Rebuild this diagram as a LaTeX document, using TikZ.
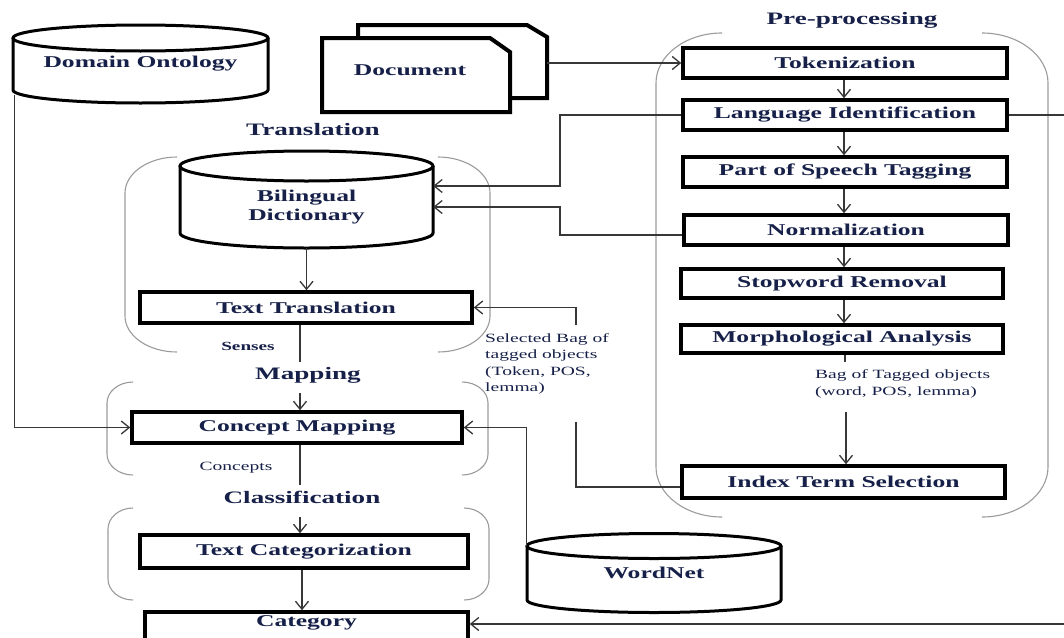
\documentclass[tikz,border=0pt]{standalone}
\usepackage{fontspec}
\setmainfont{Liberation Serif}[FakeStretch=1.55]
\usetikzlibrary{arrows.meta,calc}
\definecolor{navy}{RGB}{22,32,72}
\definecolor{grpgray}{RGB}{155,155,155}
\definecolor{conngray}{RGB}{55,55,55}
\tikzset{
 box/.style={draw=black, line width=3.5pt, fill=white, inner sep=0pt, text=navy, font=\fontsize{16.5}{19}\selectfont\bfseries},
 hold/.style={inner sep=0pt, text=navy, align=center, font=\fontsize{16.5}{19}\selectfont\bfseries},
 grptitle/.style={text=navy, inner sep=0pt, font=\fontsize{17.5}{20}\selectfont\bfseries},
 smalllab/.style={text=navy, inner sep=0pt, align=left, font=\fontsize{12.6}{16.3}\selectfont},
 conn/.style={draw=conngray, line width=1.3pt},
 arr/.style={conn, -{Straight Barb[length=8pt,width=13pt]}},
 grp/.style={draw=grpgray, line width=1.1pt},
 cylline/.style={draw=black, line width=3pt},
 sheet/.style={draw=black, line width=4pt, fill=white, line join=miter}
}
% cx, rx, y of top ellipse centre, y of bottom ellipse centre, ry
\newcommand\cylshape[5]{%
 \draw[cylline] ({#1-#2},#3) -- ({#1-#2},#4) arc[start angle=180,end angle=360,x radius=#2pt,y radius=#5pt] -- ({#1+#2},#3);
 \draw[cylline] (#1,#3) ellipse [x radius=#2pt, y radius=#5pt];
}
% x1, x2, y1, y2, dx, dy
\newcommand\grpbox[6]{%
 \draw[grp] ({#1+#5},#3) .. controls ({#1+0.45*#5},#3) and (#1,{#3+0.45*#6}) .. (#1,{#3+#6}) -- (#1,{#4-#6}) .. controls (#1,{#4-0.45*#6}) and ({#1+0.45*#5},#4) .. ({#1+#5},#4);
 \draw[grp] ({#2-#5},#3) .. controls ({#2-0.45*#5},#3) and (#2,{#3+0.45*#6}) .. (#2,{#3+#6}) -- (#2,{#4-#6}) .. controls (#2,{#4-0.45*#6}) and ({#2-0.45*#5},#4) .. ({#2-#5},#4);
}
\begin{document}
\begin{tikzpicture}[x=1pt,y=-1pt]
\useasboundingbox (0,0) rectangle (1064,637);
\clip (0,0) rectangle (1064,637);

% group brackets
\grpbox{656}{1048}{33}{517}{66}{50}
\grpbox{125}{490}{157}{352}{52}{36}
\grpbox{107}{488}{382}{475}{26}{21}
\grpbox{108}{489}{508}{600}{25}{21}

% group titles
\node[grptitle] (tpre) at (852,20) {Pre-processing};
\node[grptitle] (ttrans) at (313,130) {Translation};
\node[grptitle] (tmap) at (308,375) {Mapping};
\node[grptitle] (tclass) at (302,497) {Classification};

% cylinders
\cylshape{140.5}{127.5}{38}{90}{13}
\node[hold, minimum width=255pt, minimum height=78pt] (onto) at (140.5,64) {Domain Ontology};
\cylshape{306.5}{126.5}{166}{233}{15}
\node[hold, minimum width=253pt, minimum height=81pt] (dict) at (306.5,207.5) {Bilingual\\Dictionary};
\cylshape{654}{127}{546}{600}{12.5}
\node[hold, minimum width=254pt, minimum height=78pt] (wn) at (654,573) {WordNet};

% document
\draw[sheet] (358,25) -- (527,25) -- (547,37) -- (547,98) -- (358,98) -- cycle;
\node[inner sep=0pt, minimum width=189pt, minimum height=73pt] (docback) at (452.5,61.5) {};
\draw[sheet] (322,38) -- (490,38) -- (510,52) -- (510,112) -- (322,112) -- cycle;
\node[hold] (doc) at (410,70) {Document};

% pre-processing boxes
\node[box, minimum width=324pt, minimum height=30pt] (tok) at (845,63) {Tokenization};
\node[box, minimum width=324pt, minimum height=30pt] (li) at (845,115) {Language Identification};
\node[box, minimum width=324pt, minimum height=30pt] (pos) at (845,172) {Part of Speech Tagging};
\node[box, minimum width=324pt, minimum height=30pt] (norm) at (846,230) {Normalization};
\node[box, minimum width=322pt, minimum height=29pt] (stop) at (842,283.5) {Stopword Removal};
\node[box, minimum width=322pt, minimum height=28pt] (morph) at (842,339) {Morphological Analysis};
\node[box, minimum width=323pt, minimum height=32pt] (its) at (843.5,482) {Index Term Selection};

% left column boxes
\node[box, minimum width=332pt, minimum height=31pt] (tt) at (306,307.5) {Text Translation};
\node[box, minimum width=330pt, minimum height=31pt] (cm) at (297,427.5) {Concept Mapping};
\node[box, minimum width=328pt, minimum height=33pt] (tc) at (304,551.5) {Text Categorization};
\node[box, minimum width=323pt, minimum height=40pt] (cat) at (306.5,632) {};
\node[hold] (catlabel) at (306.5,623) {Category};

% small labels
\node[smalllab, font=\fontsize{12.4}{15}\selectfont\bfseries] (senses) at (248,346) {Senses};
\node[smalllab] (concepts) at (236,468) {Concepts};
\node[smalllab, anchor=west] (selbag) at (485,364) {Selected Bag of\\tagged objects\\(Token, POS,\\lemma)};
\node[smalllab, anchor=west] (bag) at (815,384) {Bag of Tagged objects\\(word, POS, lemma)};

% connectors
\draw[arr] (docback.east |- tok.west) -- (tok.west);
\coordinate (edgeA) at (1064,115);
\draw[conn] (li.east) -- (edgeA);
\draw[arr] (tok.south -| 844,0) -- (li.north -| 844,0);
\draw[arr] (li.south -| 844,0) -- (pos.north -| 844,0);
\draw[arr] (pos.south -| 844,0) -- (norm.north -| 844,0);
\draw[arr] (norm.south -| 844,0) -- (stop.north -| 844,0);
\draw[arr] (stop.south -| 844,0) -- (morph.north -| 844,0);
\draw[conn] (morph.south -| 845,0) -- (845,362);
\draw[arr] (846,412) -- (its.north -| 846,0);

\draw[arr] (li.west) -| (560,186) -- (dict.east |- 0,186);
\draw[arr] ([yshift=-5pt]norm.west) -| (560,207) -- (dict.east |- 0,207);
\draw[arr] ([yshift=-5pt]its.west) -| (576,422) (576,325) |- (tt.east);

\draw[arr] (dict.south) -- (tt.north -| dict.south);
\draw[conn] (tt.south -| 300,0) -- (300,362);
\draw[arr] (300,393) -- (cm.north -| 300,0);
\draw[conn] (cm.south -| 300,0) -- (300,485);
\draw[arr] (300,517) -- (tc.north -| 300,0);
\draw[arr] (tc.south -| 302,0) -- (cat.north -| 302,0);

\draw[arr] ([xshift=2pt,yshift=8pt]onto.south west) |- (cm.west);
\draw[arr] ([yshift=27pt]wn.west) |- (cm.east);
\coordinate (edgeB) at (1064,624);
\draw[arr] (edgeB) -- (cat.east |- edgeB);
\end{tikzpicture}
\end{document}
